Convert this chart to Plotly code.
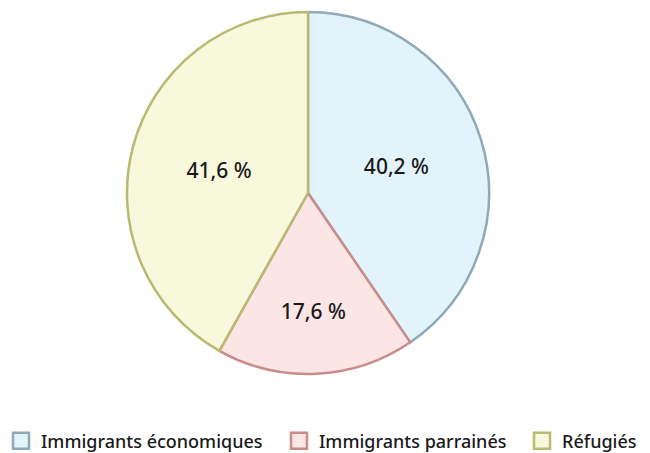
import plotly.graph_objects as go

categories = ["Immigrants économiques", "Immigrants parrainés", "Réfugiés"]
values = [40.2, 17.6, 41.6]
value_labels = ["40,2 %", "17,6 %", "41,6 %"]

fills = ["#e2f3fb", "#fce6e5", "#f8f8dd"]
lines = ["#8faab6", "#c98c89", "#b9ba72"]

W, H = 650, 453
legend_x_px = [-7, 271, 514]
legend_y_px = 433
FONT = "Noto Sans"

fig = go.Figure()
fig.add_trace(go.Pie(
    labels=categories,
    values=values,
    text=value_labels,
    textinfo="text",
    hoverinfo="label+text",
    sort=False,
    direction="clockwise",
    rotation=0,
    showlegend=False,
    marker=dict(colors=fills, line=dict(color=lines, width=2.5)),
    textfont=dict(family=FONT, size=21, color="#1a1a1a", weight=500),
    insidetextorientation="horizontal",
    domain=dict(x=[0, 600 / W], y=[0, 1]),
))

legend_ids = ["legend", "legend2", "legend3"]
for name, fc, lc, lid in zip(categories, fills, lines, legend_ids):
    fig.add_trace(go.Scatter(
        x=[None], y=[None], mode="markers", name=name, legend=lid,
        marker=dict(symbol="square", size=16, color=fc, line=dict(color=lc, width=2.5)),
        hoverinfo="skip",
    ))

leg_common = dict(
    orientation="h",
    xanchor="left", xref="paper",
    yanchor="middle", yref="container",
    y=(H - legend_y_px) / H,
    font=dict(family=FONT, size=18, color="#1a1a1a", weight=500),
    itemsizing="trace",
    itemclick=False, itemdoubleclick=False,
    bgcolor="rgba(0,0,0,0)",
)

fig.update_layout(
    width=W, height=H,
    margin=dict(l=0, r=0, t=4, b=87, autoexpand=False),
    paper_bgcolor="white",
    plot_bgcolor="white",
    font=dict(family=FONT, size=18, color="#1a1a1a"),
    xaxis=dict(visible=False),
    yaxis=dict(visible=False),
    showlegend=True,
    legend=dict(x=legend_x_px[0] / W, **leg_common),
    legend2=dict(x=legend_x_px[1] / W, **leg_common),
    legend3=dict(x=legend_x_px[2] / W, **leg_common),
)

fig.write_html("out.html")
